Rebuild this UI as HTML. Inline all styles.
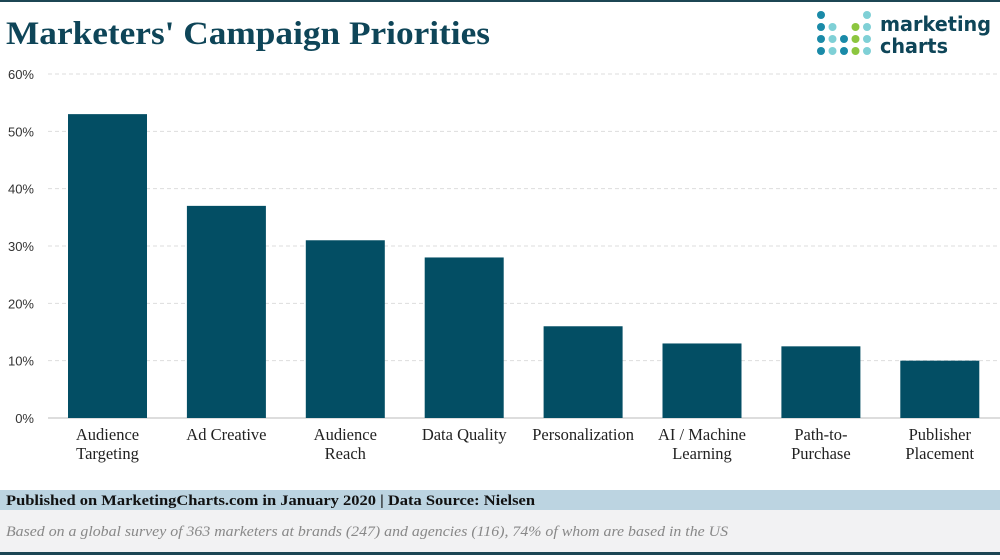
<!DOCTYPE html>
<html><head><meta charset="utf-8"><style>
body{margin:0;width:1000px;height:555px;overflow:hidden;background:#fff;font-family:"Liberation Serif",serif}
</style></head><body>
<svg width="1000" height="555" xmlns="http://www.w3.org/2000/svg">
<rect x="0" y="0" width="1000" height="2" fill="#1c4654"/>
<text x="6" y="44" font-family="Liberation Serif,serif" font-weight="bold" font-size="33" fill="#0e4558" textLength="484" lengthAdjust="spacingAndGlyphs">Marketers' Campaign Priorities</text>
<g id="logo"></g>
<text x="880" y="31" font-family="DejaVu Sans,sans-serif" font-weight="bold" font-size="20" fill="#0e4558" textLength="111" lengthAdjust="spacingAndGlyphs">marketing</text>
<text x="880" y="53" font-family="DejaVu Sans,sans-serif" font-weight="bold" font-size="20" fill="#0e4558" textLength="68" lengthAdjust="spacingAndGlyphs">charts</text>
<g id="grid"></g><g id="bars"></g><g id="xlabels"></g>
<rect x="0" y="490" width="1000" height="20" fill="#bcd4e1"/>
<text x="6" y="505" font-family="Liberation Serif,serif" font-weight="bold" font-size="15" fill="#111" textLength="529" lengthAdjust="spacingAndGlyphs">Published on MarketingCharts.com in January 2020 | Data Source: Nielsen</text>
<rect x="0" y="510" width="1000" height="42" fill="#f2f2f3"/>
<text x="6" y="536" font-family="Liberation Serif,serif" font-style="italic" font-size="15" fill="#888" textLength="722" lengthAdjust="spacingAndGlyphs">Based on a global survey of 363 marketers at brands (247) and agencies (116), 74% of whom are based in the US</text>
<rect x="0" y="552" width="1000" height="3" fill="#1c4654"/>
</svg>
<script>
const categories=[["Audience","Targeting"],["Ad Creative"],["Audience","Reach"],["Data Quality"],["Personalization"],["AI / Machine","Learning"],["Path-to-","Purchase"],["Publisher","Placement"]];
const values=[53,37,31,28,16,13,12.5,10];
const ticks=[0,10,20,30,40,50,60];
const NS="http://www.w3.org/2000/svg";
const y=v=>418-v*(344/60);
const x0=68,step=118.9,bw=79;
function mk(t,a,p){const e=document.createElementNS(NS,t);for(const k in a)e.setAttribute(k,a[k]);p.appendChild(e);return e;}
const g=document.getElementById('grid'),b=document.getElementById('bars'),xl=document.getElementById('xlabels');
ticks.forEach(t=>{
 const l=mk('line',{x1:48,x2:1000,y1:y(t),y2:y(t),stroke:t?'#ddd':'#bbb','stroke-dasharray':t?'4 3':'none'},g);
 
 
 const tx=mk('text',{x:34,y:y(t)+5,'text-anchor':'end','font-family':'Liberation Sans,sans-serif','font-size':13,fill:'#333'},g);
 tx.textContent=t+'%';
 
 
});
values.forEach((v,i)=>{
 const r=mk('rect',{x:x0+i*step,y:y(v),width:bw,height:418-y(v),fill:'#034e64'},b);
 
 
 categories[i].forEach((s,j)=>{
  const t=mk('text',{x:x0+i*step+bw/2,y:440+j*19,'text-anchor':'middle','font-family':'Liberation Serif,serif','font-size':16.5,fill:'#222'},xl);
  t.textContent=s;
  
  
 });
});
const D='#1a8aa8',L='#7fd0d6',G='#8cc63f';
const dots=[[D,0,0,0,L],[D,L,0,G,L],[D,L,D,G,L],[D,L,D,G,L]];
const lg=document.getElementById('logo');
dots.forEach((row,ri)=>row.forEach((c,ci)=>{if(!c)return;
 const d=mk('circle',{cx:821+ci*11.5,cy:15+ri*12,r:4,fill:c},lg);
 
 
}));
</script>
</body></html>
